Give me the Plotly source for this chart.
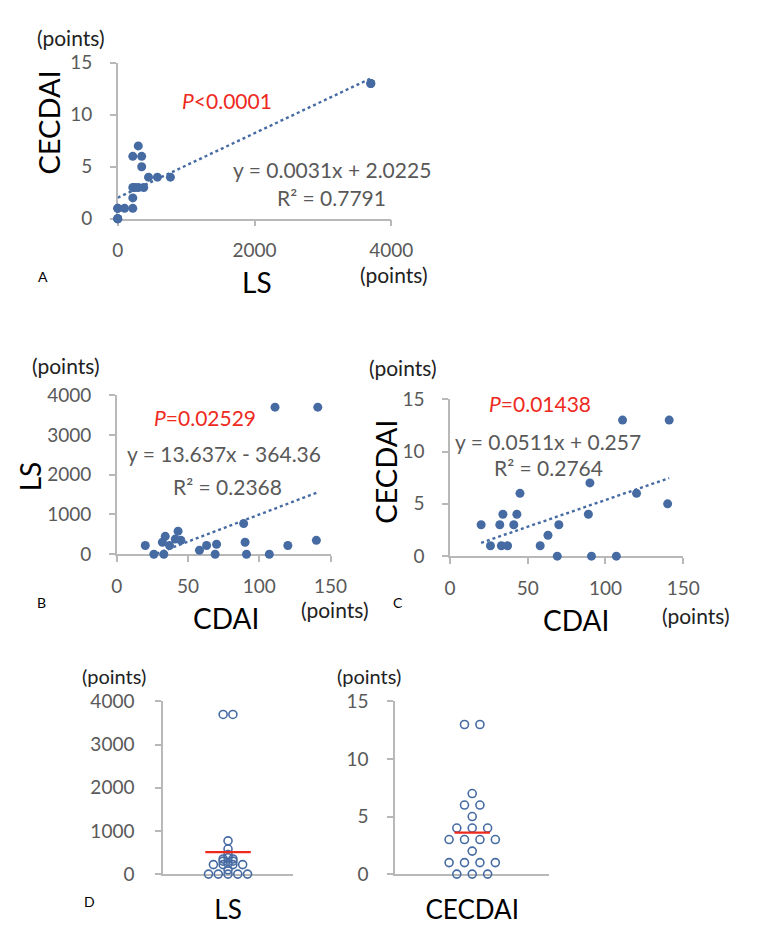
import plotly.graph_objects as go

W, H = 762, 928
FONT = "Lato"
BLUE = "#466BA3"
RED = "#EE2A1E"
AXIS = "#B8B8B8"
TICKC = "#595959"

# ---- data ----
cdai = [20, 26, 32, 33, 34, 37, 41, 43, 45, 58, 63, 69, 70, 89, 90, 91, 107, 111, 120, 140, 141]
ls = [220, 0, 300, 0, 450, 220, 380, 580, 350, 100, 220, 0, 250, 770, 300, 0, 0, 3700, 220, 350, 3700]
cecdai = [3, 1, 3, 1, 4, 1, 3, 4, 6, 1, 2, 0, 3, 4, 7, 0, 0, 13, 6, 5, 13]

fit_a = (0.0031, 2.0225)   # CECDAI vs LS
fit_b = (13.637, -364.36)  # LS vs CDAI
fit_c = (0.0511, 0.257)    # CECDAI vs CDAI
ls_mean = 510
cecdai_mean = 3.6

ls_ticks = [0, 1000, 2000, 3000, 4000]
ce_ticks = [0, 5, 10, 15]
cdai_ticks = [0, 50, 100, 150]
ls_x_ticks = [0, 2000, 4000]


def px(x):
    return x / W


def py(y):
    return 1 - y / H


fig = go.Figure()


def scatter_panel(n, xs, ys, fit):
    xa = "x" if n == 1 else f"x{n}"
    ya = "y" if n == 1 else f"y{n}"
    lo, hi = min(xs), max(xs)
    fig.add_trace(go.Scatter(
        x=[lo, hi], y=[fit[0] * lo + fit[1], fit[0] * hi + fit[1]],
        mode="lines", line=dict(color=BLUE, width=2.4, dash="dot"),
        xaxis=xa, yaxis=ya, showlegend=False, hoverinfo="skip"))
    fig.add_trace(go.Scatter(
        x=xs, y=ys, mode="markers",
        marker=dict(color=BLUE, size=9, line=dict(width=0)),
        cliponaxis=False, xaxis=xa, yaxis=ya, showlegend=False))


def swarm_offsets(vals, step):
    groups = {}
    for i, v in enumerate(vals):
        groups.setdefault(v, []).append(i)
    offs = [0.0] * len(vals)
    for v, idx in groups.items():
        n = len(idx)
        for k, i in enumerate(idx):
            offs[i] = (k - (n - 1) / 2) * step
    return offs


def dot_panel(n, vals, step, mean, half):
    xa = f"x{n}"
    ya = f"y{n}"
    fig.add_trace(go.Scatter(
        x=swarm_offsets(vals, step), y=vals, mode="markers",
        marker=dict(symbol="circle-open", color=BLUE, size=8, line=dict(width=1.6)),
        cliponaxis=False, xaxis=xa, yaxis=ya, showlegend=False))
    fig.add_trace(go.Scatter(
        x=[-half, half], y=[mean, mean], mode="lines",
        line=dict(color=RED, width=2.2), cliponaxis=False,
        xaxis=xa, yaxis=ya, showlegend=False, hoverinfo="skip"))


scatter_panel(1, ls, cecdai, fit_a)
scatter_panel(2, cdai, ls, fit_b)
scatter_panel(3, cdai, cecdai, fit_c)
dot_panel(4, ls, 0.15, ls_mean, 0.35)
dot_panel(5, cecdai, 0.2, cecdai_mean, 0.23)

base = dict(showline=True, linecolor=AXIS, linewidth=1.5, ticks="outside",
            ticklen=6, tickwidth=1.5, tickcolor=AXIS, showgrid=False,
            zeroline=False, layer="below traces",
            tickfont=dict(family=FONT, size=19, color=TICKC))


def xax(l, r, rng, tv, anchor, standoff=8, **kw):
    d = dict(base, domain=[px(l), px(r)], range=rng, tickvals=tv,
             anchor=anchor, ticklabelstandoff=standoff)
    d.update(kw)
    return d


def yax(t, b, rng, tv, anchor, standoff=14, **kw):
    d = dict(base, domain=[py(b), py(t)], range=rng, tickvals=tv,
             anchor=anchor, ticklabelstandoff=standoff)
    d.update(kw)
    return d


layout = dict(
    width=W, height=H, margin=dict(l=0, r=0, t=0, b=0),
    paper_bgcolor="white", plot_bgcolor="white",
    font=dict(family=FONT),
    xaxis=xax(116, 400, [0, 4000], ls_x_ticks, "y"),
    yaxis=yax(52, 212, [0, 15], ce_ticks, "x"),
    xaxis2=xax(115, 337, [0, 150], cdai_ticks, "y2"),
    yaxis2=yax(393, 556, [0, 4000], ls_ticks, "x2"),
    xaxis3=xax(461, 703, [0, 150], cdai_ticks, "y3"),
    yaxis3=yax(397, 558, [0, 15], ce_ticks, "x3"),
    xaxis4=xax(163, 298, [-1, 1], [0], "y4", standoff=12, ticks="",
               ticktext=["LS"], tickfont=dict(family=FONT, size=26, color="black")),
    yaxis4=yax(707, 884, [0, 4000], ls_ticks, "x4", standoff=17),
    xaxis5=xax(404, 564, [-1, 1], [0], "y5", standoff=12, ticks="",
               ticktext=["CECDAI"], tickfont=dict(family=FONT, size=26, color="black")),
    yaxis5=yax(707, 884, [0, 15], ce_ticks, "x5", standoff=15),
)
fig.update_layout(**layout)

ann = []


def note(text, x, y, size=21, color="#222222", angle=0):
    ann.append(dict(text=text, x=px(x), y=py(y), xref="paper", yref="paper",
                    showarrow=False, xanchor="center", yanchor="middle",
                    textangle=angle,
                    font=dict(family=FONT, size=size, color=color)))


GRAY = "#595959"
# Panel A
note("(points)", 67, 26)
note("CECDAI", 44, 113, size=29, color="black", angle=-90)
note("LS", 261, 277, size=28, color="black")
note("(points)", 403, 269)
note("A", 38, 271, size=14, color="black")
note("<i>P</i><0.0001", 229, 91, size=21, color=RED)
note("y = 0.0031x + 2.0225", 338, 162, size=21, color=GRAY)
note("R² = 0.7791", 338, 190, size=21, color=GRAY)
# Panel B
note("(points)", 62, 362)
note("LS", 25, 476, size=28, color="black", angle=-90)
note("CDAI", 228, 621, size=28, color="black")
note("(points)", 342, 613)
note("B", 37, 605, size=14, color="black")
note("<i>P</i>=0.02529", 207, 416, size=21, color=RED)
note("y = 13.637x - 364.36", 226, 453, size=21, color=GRAY)
note("R² = 0.2368", 230, 487, size=21, color=GRAY)
# Panel C
note("(points)", 412, 365)
note("CECDAI", 394, 472, size=29, color="black", angle=-90)
note("CDAI", 592, 623, size=28, color="black")
note("(points)", 716, 619)
note("C", 407, 605, size=14, color="black")
note("<i>P</i>=0.01438", 554, 401, size=21, color=RED)
note("y = 0.0511x + 0.257", 563, 440, size=21, color=GRAY)
note("R² = 0.2764", 563, 467, size=21, color=GRAY)
# Panel D
note("(points)", 112, 681, size=20)
note("(points)", 377, 681, size=20)
note("D", 87, 912, size=14, color="black")

fig.update_layout(annotations=ann)
fig.write_html("out.html", config={"displayModeBar": False},
               post_script="document.body.style.margin='0';")
